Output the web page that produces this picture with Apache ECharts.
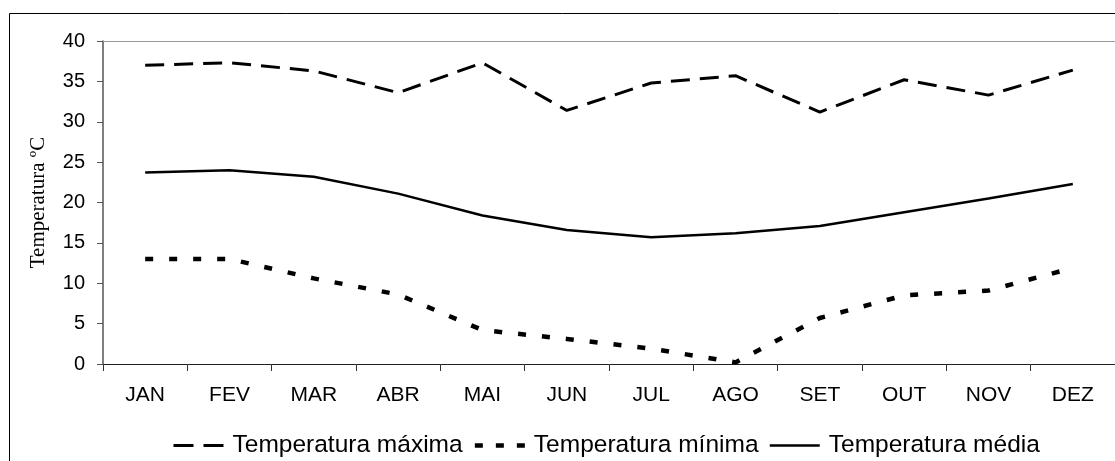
<!DOCTYPE html>
<html>
<head>
<meta charset="utf-8">
<script src="https://cdn.jsdelivr.net/npm/echarts@6/dist/echarts.min.js"></script>
<style>
html,body{margin:0;padding:0;background:#fff;}
#chart{width:1115px;height:461px;}
</style>
</head>
<body>
<div id="chart"></div>
<script>
var months = ['JAN','FEV','MAR','ABR','MAI','JUN','JUL','AGO','SET','OUT','NOV','DEZ'];
var tempMax = [37.0, 37.3, 36.3, 33.6, 37.3, 31.4, 34.8, 35.7, 31.2, 35.2, 33.3, 36.4];
var tempMin = [13.0, 13.0, 10.6, 8.6, 4.2, 3.1, 1.9, 0.2, 5.7, 8.5, 9.1, 11.9];
var tempMed = [23.7, 24.0, 23.2, 21.1, 18.4, 16.6, 15.7, 16.2, 17.1, 18.8, 20.5, 22.3];
var yTicks = [0, 5, 10, 15, 20, 25, 30, 35, 40];
var names = ['Temperatura máxima', 'Temperatura mínima', 'Temperatura média'];

var chart = echarts.init(document.getElementById('chart'), null, {renderer: 'canvas'});
var sans = 'Liberation Sans, Arial, sans-serif';
var hideSym = {opacity: 0, color: 'transparent', borderWidth: 0};
chart.setOption({
  animation: false,
  backgroundColor: '#fff',
  graphic: [{
    type: 'rect', left: 7, top: 11, shape: {x: 0, y: 0, width: 1200, height: 600},
    style: {fill: 'none', stroke: '#000', lineWidth: 1}, z: -10
  }],
  grid: {left: 103, top: 41, width: 1014, bottom: 97, containLabel: false},
  legend: {
    left: 167, top: 428,
    itemWidth: 50, itemHeight: 14, itemGap: 10,
    textStyle: {fontSize: 24.5, fontFamily: sans, color: '#000', padding: [0, 0, 0, 4]},
    itemStyle: hideSym,
    data: [
      {name: names[0], itemStyle: hideSym, lineStyle: {color: '#000', width: 3, type: [20, 10]}},
      {name: names[1], itemStyle: hideSym, lineStyle: {color: '#000', width: 4.5, type: [8, 13]},
       textStyle: {width: 236}},
      {name: names[2], itemStyle: hideSym, lineStyle: {color: '#000', width: 2.5, type: 'solid'}}
    ]
  },
  xAxis: [{
    type: 'category', data: months, boundaryGap: true, position: 'bottom',
    axisLine: {show: true, lineStyle: {color: '#222', width: 1}},
    axisTick: {show: true, length: 7, lineStyle: {color: '#333'}},
    axisLabel: {fontSize: 21, fontFamily: sans, color: '#000', margin: 21}
  }, {
    type: 'category', data: months, position: 'top',
    axisLine: {show: true, lineStyle: {color: '#999', width: 1}},
    axisTick: {show: false}, axisLabel: {show: false}
  }],
  yAxis: {
    type: 'value', min: yTicks[0], max: yTicks[yTicks.length - 1], interval: yTicks[1] - yTicks[0],
    name: 'Temperatura ºC', nameLocation: 'middle', nameRotate: 90, nameGap: 54,
    nameTextStyle: {fontSize: 21, fontFamily: 'Liberation Serif, Times New Roman, serif', color: '#000'},
    axisLine: {show: true, lineStyle: {color: '#555', width: 1.5}},
    axisTick: {show: true, length: 6, lineStyle: {color: '#555'}},
    axisLabel: {fontSize: 20, fontFamily: sans, color: '#000', margin: 18},
    splitLine: {show: false}
  },
  series: [{
    name: names[0], type: 'line', data: tempMax, symbol: 'none',
    lineStyle: {color: '#000', width: 3, type: [19, 10]}, itemStyle: {color: '#000'}
  }, {
    name: names[1], type: 'line', data: tempMin, symbol: 'none',
    lineStyle: {color: '#000', width: 4.5, type: [8, 16]}, itemStyle: {color: '#000'}
  }, {
    name: names[2], type: 'line', data: tempMed, symbol: 'none',
    lineStyle: {color: '#000', width: 2.5, type: 'solid'}, itemStyle: {color: '#000'}
  }]
});
</script>
</body>
</html>
